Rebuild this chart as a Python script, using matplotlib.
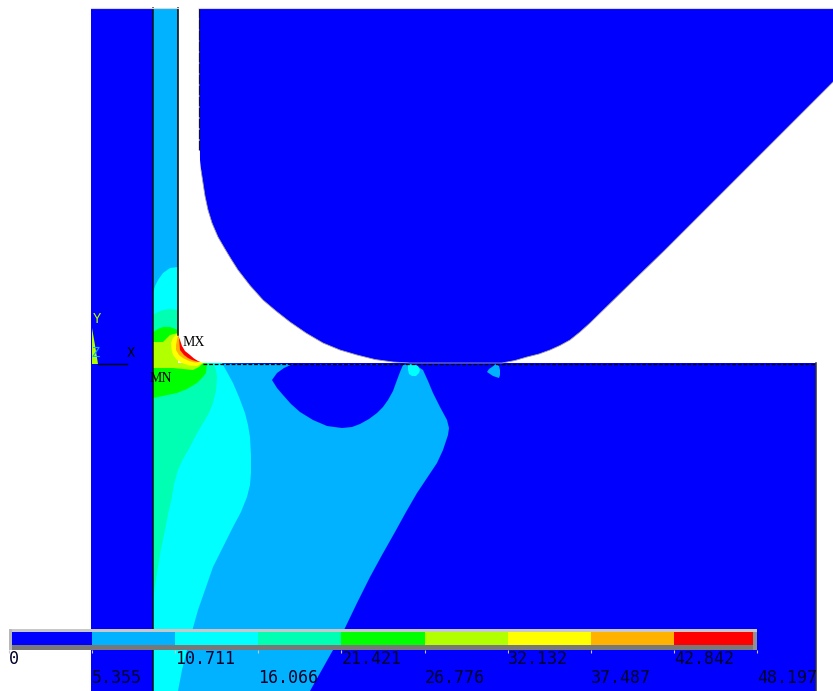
import matplotlib
matplotlib.use("Agg")
import matplotlib.pyplot as plt
import numpy as np
from matplotlib.transforms import Bbox

# contour levels and legend
levels = [0, 5.355, 10.711, 16.066, 21.421, 26.776, 32.132, 37.487, 42.842, 48.197]
level_labels = ["0", "5.355", "10.711", "16.066", "21.421", "26.776", "32.132", "37.487", "42.842", "48.197"]
colours = ["#0000ff", "#00b2ff", "#00ffff", "#00ffb2", "#00ff00", "#b2ff00", "#ffff00", "#ffb200", "#ff0000"]

# outlines, in image pixels
die = [(199, 8), (833, 8), (833, 82), (665, 250), (633, 281), (590, 323), (580, 332), (570, 340), (560, 345.5),
       (550, 350), (539, 354), (527, 357), (515, 360.5), (502, 363), (410, 363), (393, 362), (375, 359.5),
       (357, 355), (340, 350), (323, 343), (306, 333), (290, 322), (276, 311), (263, 300), (250, 285.5), (238, 270),
       (231, 259), (225, 249), (218, 237), (212, 223), (208, 210), (205, 196), (203, 183), (201, 170), (200, 160)]
strip = [(91, 8), (153, 8), (153, 691), (91, 691)]
block = [(153, 363), (816, 363), (816, 691), (153, 691)]
column = [(153, 8), (178, 8), (178, 363), (153, 363)]
fillet_edge = [(178, 335), (180, 340), (182, 346), (185, 351), (190, 355), (194, 358.5), (198, 361), (203, 363)]
fillet_back = [(206, 358), (178, 320)]

lightblue_lower = [(153, 363), (403, 365), (414, 364), (423, 370), (428, 381), (433, 393), (440, 407), (447, 420),
                   (449, 428), (448, 435), (443, 450), (437, 463), (427, 478), (417, 493), (406, 512), (395, 532),
                   (382, 555), (370, 577), (357, 603), (345, 628), (333, 650), (310, 691), (153, 691)]
blue_lobe = [(293, 364), (284, 368), (277, 373), (272, 380), (277, 388), (283, 395), (291, 404), (300, 412),
             (313, 420), (327, 426), (342, 428), (352, 427), (360, 424), (369, 419), (377, 413), (383, 407),
             (388, 400), (393, 391), (397, 380), (400, 372), (403, 365)]
blob_cyan = [(408, 365), (413, 364), (418, 366), (420, 370), (419, 373), (416, 376), (412, 376), (409, 374), (408, 370)]
blob_small = [(496, 364), (499, 366), (500, 370), (500, 375), (499, 378), (496, 377), (493, 376), (490, 374), (487, 372),
              (489, 369), (492, 367)]
cyan_lower = [(153, 363), (222, 363), (227, 372), (233, 383), (239, 397), (245, 413), (248, 425), (250, 437), (251, 455),
              (251, 473), (250, 485), (247, 497), (241, 512), (233, 527), (223, 547), (213, 567), (205, 590),
              (198, 610), (193, 628), (187, 650), (182, 670), (178, 691), (153, 691)]
mint_lower = [(153, 363), (213, 363), (216, 370), (217, 377), (216, 391), (213, 403), (209, 413), (203, 423), (196, 435),
              (190, 447), (183, 459), (178, 470), (174, 484), (172, 497), (168, 514), (165, 530), (161, 549),
              (158, 567), (155, 586), (153, 603)]
green_lower = [(153, 363), (207, 363), (206, 373), (202, 378), (197, 383), (187, 389), (177, 393), (165, 395.5), (153, 398)]
yg_main = [(153, 342), (163, 342), (167, 338), (170, 335), (178, 333), (178, 363), (203, 363), (199, 367), (193, 370),
           (183, 369), (173, 368), (153, 368)]
cyan_col = [(153, 363), (153, 293), (155, 286), (158, 280), (163, 273), (170, 268), (178, 267), (178, 363)]
mint_col = [(153, 363), (153, 315), (158, 312), (163, 310), (170, 309), (178, 310), (178, 363)]
green_col = [(153, 363), (153, 332), (158, 329), (163, 327), (170, 327), (178, 330), (178, 363)]
yellow = [(178, 333), (173, 338), (171, 343), (171.5, 349), (173, 355), (177, 360), (182, 363), (189, 365.5), (197, 366),
          (203, 363), (195, 350)]
orange = [(178, 335), (177, 340), (176, 345), (176, 350), (179, 355), (183, 358), (189, 361), (195, 362.5), (201, 362),
          (195, 350)]
red = [(178, 335), (179, 338), (179.5, 344), (180, 350), (184, 355), (188, 358), (192, 360), (197, 361.5), (201, 362),
       (195, 350)]
triangle = [(92, 328), (95, 345), (98, 364), (92, 364)]

fig = plt.figure(figsize=(8.33, 6.91), dpi=100)
ax = fig.add_axes([0, 0, 1, 1])
ax.set_xlim(0, 833)
ax.set_ylim(691, 0)
ax.axis("off")

# order matters, later shapes sit on the earlier ones
layers = [(strip, 0), (block, 0), (die, 0), (column, 1), (lightblue_lower, 1), (blue_lobe, 0), (blob_small, 1),
          (blob_cyan, 2), (cyan_lower, 2), (mint_lower, 3), (green_lower, 4), (cyan_col, 2), (mint_col, 3),
          (green_col, 4), (yg_main, 5), (yellow, 6), (orange, 7), (red, 8), (triangle, 5)]
for shape, lev in layers:
    xy = np.array(shape)
    ax.fill(xy[:, 0], xy[:, 1], color=colours[lev], lw=0)
edge = np.array(fillet_edge + fillet_back)
ax.fill(edge[:, 0], edge[:, 1], color="white", lw=0)

# element edges
ax.plot([153, 153], [8, 691], c="#101010", lw=1.1)
ax.plot([178, 178], [8, 335], c="black", lw=1.1)
ax.plot([199, 199], [8, 150], c="#101030", lw=0.9, ls=(0, (8, 0.8)))
ax.plot([203, 816], [363.5, 363.5], c="black", lw=0.9, ls=(0, (3, 1.5)))
ax.plot([816, 816], [363, 691], c="#303030", lw=1.1)
ax.plot([91, 178], [7.5, 7.5], c="#d8d8d8", lw=0.8)
ax.plot([199, 833], [7.5, 7.5], c="#d8d8d8", lw=0.8)
die_xy = np.array(die)
ax.plot(die_xy[2:-1, 0], die_xy[2:-1, 1], c="#a0a0a0", lw=0.6)

# triad and labels
ax.plot([98, 127], [364, 364], c="black", lw=1)
mono = "DejaVu Sans Mono"
ax.text(97, 319, "Y", color="#b2ff00", family="Liberation Mono", fontsize=10, ha="center", va="center")
ax.text(96, 353, "Z", color="#00b2ff", family="Liberation Mono", fontsize=10, ha="center", va="center")
ax.text(131, 353, "X", color="black", family="Liberation Mono", fontsize=10, ha="center", va="center")
ax.text(193.5, 342, "MX", color="black", family="Liberation Serif", fontsize=10, ha="center", va="center")
ax.text(161, 378, "MN", color="black", family="Liberation Serif", fontsize=10, ha="center", va="center")

# legend bar
bar = fig.add_axes([9 / 833, 1 - 649.5 / 691, 748 / 833, 20.5 / 691])
bar.pcolormesh(levels, [0, 1], [np.arange(9)], cmap=matplotlib.colors.ListedColormap(colours), vmin=-0.5, vmax=8.5)
bar.set_xlim(levels[0], levels[-1])
bar.set_ylim(0, 1)
bar.set_yticks([])
for s in bar.spines.values():
    s.set_visible(False)
bar.set_xticks(levels)
bar.set_xticklabels([])
bar.tick_params(axis="x", length=2.2, width=0.8, color="#c8c8c8")
bar.patch.set_visible(False)
bar.add_patch(plt.Rectangle((0, 0), 1, 0.2, transform=bar.transAxes, color="#787878", lw=0))
bar.add_patch(plt.Rectangle((0.9945, 0), 0.0055, 1, transform=bar.transAxes, color="#909090", lw=0))
bar.add_patch(plt.Rectangle((0, 0.85), 1, 0.15, transform=bar.transAxes, color="#c8c8c8", lw=0))
bar.add_patch(plt.Rectangle((0, 0), 0.0045, 1, transform=bar.transAxes, color="#b8b8b8", lw=0))

clip = Bbox([[0, 0], [816, 691]])
for i, (v, lab) in enumerate(zip(levels, level_labels)):
    row = -0.48 if i % 2 == 0 else -1.37
    t = bar.text(v, row, lab, transform=bar.get_xaxis_transform(), family=mono, fontsize=12, color="#000028",
                 ha="left", va="center", clip_on=True)
    t.set_clip_box(clip)

fig.savefig("out.png", dpi=100)
